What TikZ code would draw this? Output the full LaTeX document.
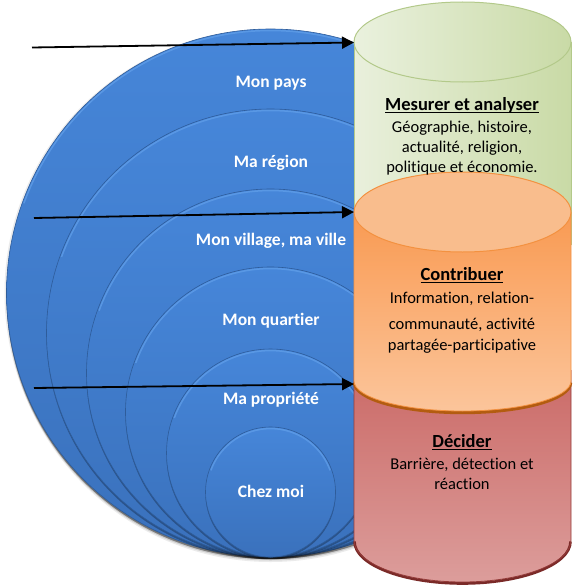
\documentclass[tikz,border=0pt]{standalone}
\usepackage{fontspec}
\setmainfont{Carlito}[Ligatures={NoCommon}]
\usetikzlibrary{arrows.meta}
\definecolor{bluetop}{HTML}{4686D9}
\definecolor{bluebot}{HTML}{3A71BC}
\definecolor{blueedge}{HTML}{2E5C9A}
\definecolor{bluehi}{HTML}{62A0EA}
\definecolor{greenL}{HTML}{E9F0DC}
\definecolor{greenM}{HTML}{EAF1DE}
\definecolor{greenR}{HTML}{C9DAA6}
\definecolor{greenEdge}{HTML}{B3C98A}
\definecolor{orTop}{HTML}{F99A52}
\definecolor{orMid}{HTML}{F7964A}
\definecolor{orBot}{HTML}{FBC59B}
\definecolor{orCap}{HTML}{F9BD8D}
\definecolor{orEdge}{HTML}{F39140}
\definecolor{orBevel}{HTML}{B35C10}
\definecolor{redTop}{HTML}{CB6A67}
\definecolor{redMid}{HTML}{C0504D}
\definecolor{redBot}{HTML}{DC9D9B}
\definecolor{redEdge}{HTML}{943A38}
\definecolor{redBevel}{HTML}{7A2A28}
\newcommand\ulc[1]{\setbox0\hbox{#1}\rlap{\rule[-2.6pt]{\wd0}{0.9pt}}\box0}
\tikzset{
  ringlabel/.style={anchor=base, text=white, font=\fontsize{17.5}{20}\selectfont\bfseries, inner sep=0pt},
  cyltitle/.style={anchor=base, text=black, font=\fontsize{18.5}{22}\selectfont\bfseries, inner sep=0pt},
  cyltext/.style={anchor=base, text=black, font=\fontsize{16.5}{20}\selectfont, inner sep=0pt},
  pointer/.style={draw=black, line width=1.8pt, -{Triangle[length=12pt,width=12pt]}},
}
\begin{document}
\begin{tikzpicture}[x=1pt,y=-1pt]
\useasboundingbox (0,0) rectangle (574,586);
% soft shadow of outer disc
\foreach \o/\op in {5/0.08,3.5/0.12,2/0.18}{
  \fill[black,opacity=\op] (270.5,{293+\o}) circle[radius=264pt];
}
\fill[black,opacity=0.08] (268.5,293) circle[radius=264pt];
% nested discs
\foreach \r in {264,224,184,145,104,65}{
  \pgfmathsetmacro\rr{\r-1.6}
  \pgfmathsetmacro\cy{557-\r}
  \pgfmathsetmacro\sy{557-\r+2.2}
  \coordinate (c) at (270.5,\cy);
  \fill[black,opacity=0.28] (270.5,\sy) circle[radius=\r pt];
  \shade[top color=bluetop,bottom color=bluebot] (c) circle[radius=\r pt];
  \draw[blueedge,line width=0.6pt] (c) circle[radius=\r pt];
  \draw[bluehi,line width=1.5pt,opacity=0.7] (c) ++(160:\rr pt) arc[start angle=160,end angle=20,radius=\rr pt];
}
% ring labels
\node[ringlabel] (l1) at (271,88) {Mon pays};
\node[ringlabel] (l2) at (271,167) {Ma région};
\node[ringlabel] (l3) at (271,245) {Mon village, ma ville};
\node[ringlabel] (l4) at (271,325) {Mon quartier};
\node[ringlabel] (l5) at (271,404) {Ma propriété};
\node[ringlabel] (l6) at (271,497) {Chez moi};
% green cylinder
\shade[left color=greenL,middle color=greenM,right color=greenR] (354,42) -- (354,245) -- (571,245) -- (571,42) -- cycle;
\draw[greenEdge,line width=0.9pt] (354,42) -- (354,245) (571,42) -- (571,245);
\shade[left color=greenM,right color=greenR] (462.5,42) ellipse[x radius=108.5pt,y radius=40pt];
\draw[greenEdge,line width=1pt] (462.5,42) ellipse[x radius=108.5pt,y radius=40pt];
% red cylinder
\shade[top color=redTop,middle color=redMid,bottom color=redBot] (354,370) -- (354,540) arc[start angle=180,end angle=360,x radius=108.5pt,y radius=42pt] -- (571,370) -- cycle;
\draw[redBevel,line width=2.6pt] (354.5,541.5) arc[start angle=180,end angle=360,x radius=108pt,y radius=42pt];
\draw[redEdge,line width=0.8pt] (354,370) -- (354,540) arc[start angle=180,end angle=360,x radius=108.5pt,y radius=42pt] -- (571,370);
% orange cylinder
\draw[orBevel,line width=3.4pt] (354.5,382.5) arc[start angle=180,end angle=360,x radius=108pt,y radius=30pt];
\shade[top color=orTop,middle color=orMid,bottom color=orBot] (354,212) -- (354,381) arc[start angle=180,end angle=360,x radius=108.5pt,y radius=30pt] -- (571,212) -- cycle;
\draw[orEdge,line width=0.8pt] (354,212) -- (354,381) arc[start angle=180,end angle=360,x radius=108.5pt,y radius=30pt] -- (571,212);
\fill[orCap] (462.5,212) ellipse[x radius=108.5pt,y radius=40pt];
\draw[orEdge,line width=1pt] (462.5,212) ellipse[x radius=108.5pt,y radius=40pt];
% cylinder texts
\node[cyltitle] (g0) at (462,110) {\ulc{Mesurer et analyser}};
\node[cyltext] (g1) at (462,132) {Géographie, histoire,};
\node[cyltext] (g2) at (462,152) {actualité, religion,};
\node[cyltext] (g3) at (462,172) {politique et économie.};
\node[cyltitle] (o0) at (462,280) {\ulc{Contribuer}};
\node[cyltext] (o1) at (462,303) {Information, relation-};
\node[cyltext] (o2) at (462,329) {communauté, activité};
\node[cyltext] (o3) at (462,350) {partagée-participative};
\node[cyltitle] (r0) at (462,447) {\ulc{Décider}};
\node[cyltext] (r1) at (462,469) {Barrière, détection et};
\node[cyltext] (r2) at (462,489) {réaction};
% arrows
\coordinate (a1s) at (32,47.5);
\coordinate (a1e) at (354,42.5);
\coordinate (a2s) at (34,218);
\coordinate (a2e) at (354,212);
\coordinate (a3s) at (34,388);
\coordinate (a3e) at (354,384);
\draw[pointer] (a1s) -- (a1e);
\draw[pointer] (a2s) -- (a2e);
\draw[pointer] (a3s) -- (a3e);
\end{tikzpicture}
\end{document}
